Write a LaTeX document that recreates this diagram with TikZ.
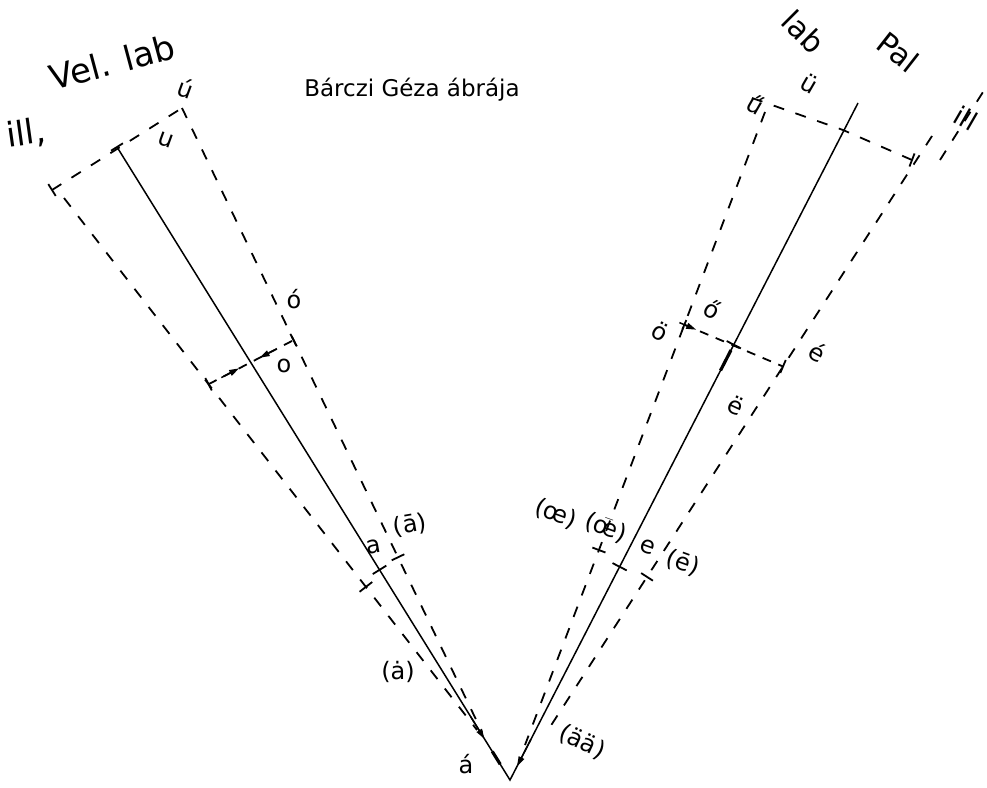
\documentclass[tikz,border=0pt]{standalone}
\usepackage{fontspec}
\setmainfont{DejaVu Sans}
\usetikzlibrary{calc,arrows.meta}
\newcommand{\tickat}[3]{\draw[tickmark] ($(#1)!#3!90:(#2)$) -- ($(#1)!#3!-90:(#2)$);}
\begin{document}
\begin{tikzpicture}[x=1pt,y=-1pt,
  solidline/.style={line width=1.5pt},
  dashline/.style={line width=1.8pt,dash pattern=on 11pt off 12pt},
  tickmark/.style={line width=1.8pt},
  thickbit/.style={line width=3.2pt},
  headarrow/.style={line width=1.5pt,-{Triangle[length=10pt,width=6pt]}},
  lbl/.style={inner sep=0pt,font=\fontsize{24}{24}\selectfont},
  bigl/.style={inner sep=0pt,font=\fontsize{34}{34}\selectfont},
  bigr/.style={inner sep=0pt,font=\fontsize{30}{30}\selectfont},
  titlefont/.style={inner sep=0pt,font=\fontsize{23}{23}\selectfont}]
\useasboundingbox (0,0) rectangle (987,787);
% --- main points
\coordinate (A) at (510,780);
\coordinate (LS1) at (117,147);
\coordinate (LI1) at (182,108);
\coordinate (LI2) at (482,732);
\coordinate (LO1) at (64,198);
\coordinate (LO2) at (477,730);
\coordinate (LC1) at (52,190);
\coordinate (RS1) at (858,103);
\coordinate (RI1) at (765,112);
\coordinate (RI2) at (525,745);
\coordinate (RO1) at (932,136);
\coordinate (RO2) at (550,727);
\coordinate (RC1) at (752,98);
\coordinate (RCm) at (843,130);
\coordinate (RC2) at (912,160);
\coordinate (RX1) at (940,160);
\coordinate (RX2) at (983,92);
% --- solid V
\draw[solidline] (LS1) -- (A) -- (RS1);
% --- dashed lines
\draw[dashline] (LI1) -- (LI2);
\draw[dashline] (LO1) -- (LO2);
\draw[dashline] (LC1) -- (LI1);
\draw[dashline] (RI1) -- (RI2);
\draw[dashline] (RO1) -- (RO2);
\draw[dashline] (RC1) -- (RCm) -- (RC2);
\draw[dashline] (RX1) -- (RX2);
% --- end ticks of top cross lines
\tickat{LC1}{LI1}{7pt}
\tickat{RC2}{RC1}{7pt}
\tickat{LS1}{A}{7pt}
% --- middle (o) level
\coordinate (mLO) at ($(LO1)!0.35!(LO2)$);
\coordinate (mLI) at ($(LI1)!0.372!(LI2)$);
\draw[dashline,dash pattern=on 9pt off 8pt] (mLO) -- (mLI);
\tickat{mLO}{mLI}{7pt}
\tickat{mLI}{mLO}{7pt}
\draw[headarrow] ($(mLO)!0.15!(mLI)$) -- ($(mLO)!0.36!(mLI)$);
\draw[headarrow] ($(mLO)!0.78!(mLI)$) -- ($(mLO)!0.6!(mLI)$);
\coordinate (mRI) at ($(RI1)!0.336!(RI2)$);
\coordinate (mRO) at ($(RO1)!0.39!(RO2)$);
\draw[dashline,dash pattern=on 9pt off 8pt] (mRI) -- (mRO);
\tickat{mRO}{mRI}{7pt}
\tickat{mRI}{mRO}{5pt}
\draw[headarrow] ($(mRI)!-0.05!(mRO)$) -- ($(mRI)!0.12!(mRO)$);
\coordinate (mRS) at ($(RS1)!0.357!(A)$);
\tickat{mRS}{RS1}{8pt}
\draw[thickbit] ($(RS1)!0.365!(A)$) -- ($(RS1)!0.395!(A)$);
% --- a level ticks
\coordinate (aLO) at ($(LO1)!0.731!(LO2)$);
\coordinate (aLS) at ($(LS1)!0.668!(A)$);
\coordinate (aLI) at ($(LI1)!0.72!(LI2)$);
\tickat{aLO}{LO2}{8pt}
\tickat{aLS}{A}{8pt}
\tickat{aLI}{LI2}{7pt}
\coordinate (aRI) at ($(RI1)!0.692!(RI2)$);
\coordinate (aRS) at ($(RS1)!0.685!(A)$);
\coordinate (aRO) at ($(RO1)!0.746!(RO2)$);
\tickat{aRI}{RI2}{7pt}
\tickat{aRS}{A}{8pt}
\tickat{aRO}{RO2}{7pt}
% --- arrowheads near the apex
\draw[headarrow] ($(LS1)!0.90!(A)$) -- ($(LS1)!0.935!(A)$);
\draw[thickbit] ($(LS1)!0.955!(A)$) -- ($(LS1)!0.975!(A)$);
\draw[headarrow] ($(RS1)!0.94!(A)$) -- ($(RS1)!0.98!(A)$);
% --- title
\node[titlefont] (title) at (412,90) {Bárczi Géza ábrája};
% --- left labels
\node[bigl,rotate=15] (vellab) at (112,62) {Vel. lab};
\node[bigl,rotate=8] (illL) at (26,134) {ill,};
\node[lbl,rotate=-20] (uacL) at (186,88) {ú};
\node[lbl,rotate=-20] (uL) at (166,140) {u};
\node[lbl] (oacL) at (294,299) {ó};
\node[lbl] (oL) at (284,366) {o};
\node[lbl,rotate=10] (aL) at (374,547) {a};
\node[lbl,rotate=10] (abarL) at (410,525) {(ā)};
\node[lbl] (adotL) at (398,672) {(ȧ)};
\node[lbl] (aacL) at (466,764) {á};
% --- right labels
\node[bigr,rotate=-45] (labR) at (804,32) {lab};
\node[bigr,rotate=-38] (palR) at (898,52) {Pal};
\node[bigr,rotate=-30,font=\fontsize{26}{26}\selectfont] (illR) at (966,118) {ill};
\node[lbl,rotate=-30] (uumlR) at (810,84) {ü};
\node[lbl,rotate=-30] (udblR) at (756,104) {ű};
\node[lbl,rotate=-30] (oumlR) at (660,331) {ö};
\node[lbl,rotate=-30] (odblR) at (713,309) {ő};
\node[lbl,rotate=-30] (eacR) at (818,352) {é};
\node[lbl,rotate=-25] (eumlR) at (736,406) {ë};
\node[lbl,rotate=-20] (oeR) at (556,514) {(œ)};
\node[lbl,rotate=-20] (oebarR) at (606,528) {(\(\bar{\hbox{œ}}\))};
\node[lbl,rotate=-20] (eR) at (648,547) {e};
\node[lbl,rotate=-20] (ebarR) at (683,563) {(ē)};
\node[lbl,rotate=-25] (aaR) at (582,742) {(ää)};
\end{tikzpicture}
\end{document}
